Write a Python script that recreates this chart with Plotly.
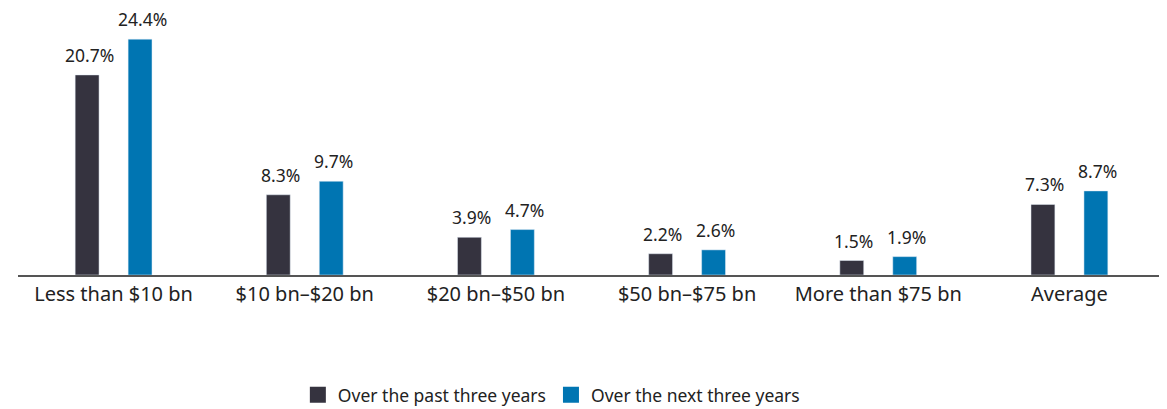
import plotly.graph_objects as go

categories = ["Less than $10 bn", "$10 bn–$20 bn", "$20 bn–$50 bn", "$50 bn–$75 bn", "More than $75 bn", "Average"]
past = [20.7, 8.3, 3.9, 2.2, 1.5, 7.3]
nxt = [24.4, 9.7, 4.7, 2.6, 1.9, 8.7]
series_names = ["Over the past three years", "Over the next three years"]

dark = "#35333f"
blue = "#0075b2"
text_color = "#222222"
font_family = "Noto Sans, Open Sans, sans-serif"

# page body has an 8px margin, so the figure is sized to fit the window
W, H = 1159, 401
ml, mr, mt, mb = 10, 2, 12, 133.5
bar_w = 0.125
offs = [-0.201, 0.076]
cat_px = (W - ml - mr) / len(categories)

fig = go.Figure()
for vals, name, col, off in [(past, series_names[0], dark, offs[0]), (nxt, series_names[1], blue, offs[1])]:
    fig.add_trace(go.Bar(
        x=categories, y=vals, name=name, marker_color=col,
        width=bar_w, offset=off, showlegend=False, hoverinfo="skip",
    ))
    # legend proxy with larger square symbol
    fig.add_trace(go.Scatter(
        x=[None], y=[None], mode="markers", name=name,
        marker=dict(symbol="square", size=20, color=col),
    ))
    xs = (off + bar_w / 2) * cat_px
    for c, v in zip(categories, vals):
        fig.add_annotation(
            x=c, y=v, text=f"{v:.1f}%", showarrow=False,
            xanchor="center", yanchor="bottom", xshift=xs + 2, yshift=6,
            font=dict(size=17.5, color=text_color, family=font_family),
        )

fig.update_layout(
    width=W, height=H,
    margin=dict(l=ml, r=mr, t=mt, b=mb, autoexpand=False),
    plot_bgcolor="white", paper_bgcolor="white",
    font=dict(family=font_family, size=20, color=text_color),
    barmode="overlay",
    showlegend=True,
    legend=dict(orientation="h", x=0.465, xanchor="center", y=-0.47, yanchor="middle",
                font=dict(size=17.5, color=text_color), itemwidth=30, traceorder="normal"),
    xaxis=dict(showline=True, linecolor="#555555", linewidth=1.5, ticks="",
               range=[-0.5, len(categories) - 0.5],
               showgrid=False, tickfont=dict(size=20), fixedrange=True),
    yaxis=dict(visible=False, range=[0, 26.38], showgrid=False, zeroline=False),
)

fig.write_html("out.html")
